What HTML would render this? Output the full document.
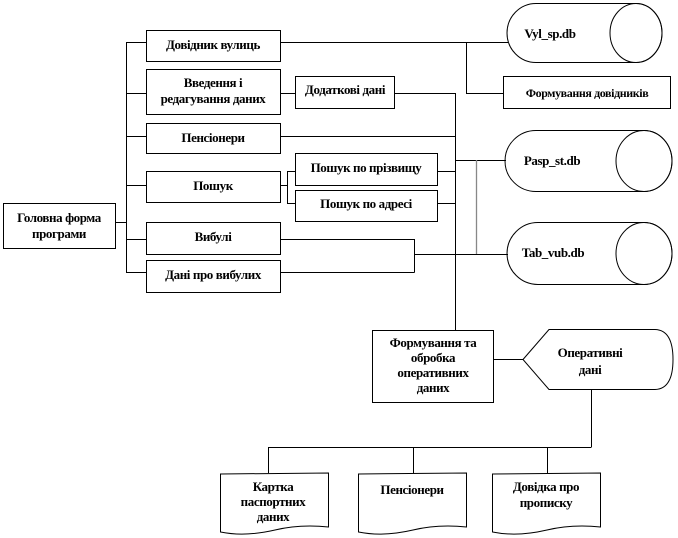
<!DOCTYPE html>
<html><head><meta charset="utf-8"><style>
html,body{margin:0;padding:0;background:#fff;}
svg{display:block}
text{font-family:"Liberation Serif",serif;font-weight:bold;font-size:13px;fill:#000;text-anchor:middle;letter-spacing:-0.4px}
</style></head><body>
<svg width="678" height="538" viewBox="0 0 678 538" xmlns="http://www.w3.org/2000/svg">
<g stroke="#000" stroke-width="1" fill="none">
<rect x="3.5" y="203.5" width="112" height="45"/>
<line x1="115" y1="222.5" x2="126.5" y2="222.5"/>
<line x1="126.5" y1="42" x2="126.5" y2="272.5"/>
<line x1="126" y1="42.5" x2="146" y2="42.5"/>
<line x1="126" y1="93.5" x2="146" y2="93.5"/>
<line x1="126" y1="136.5" x2="146" y2="136.5"/>
<line x1="126" y1="185.5" x2="146" y2="185.5"/>
<line x1="126" y1="239.5" x2="146" y2="239.5"/>
<line x1="126" y1="272.5" x2="146" y2="272.5"/>
<rect x="146.5" y="30.5" width="134" height="31"/>
<rect x="146.5" y="69.5" width="134" height="45"/>
<rect x="146.5" y="123.5" width="134" height="30"/>
<rect x="146.5" y="171.5" width="134" height="31"/>
<rect x="146.5" y="222.5" width="134" height="32"/>
<rect x="146.5" y="260.5" width="134" height="32"/>
<line x1="280" y1="93.5" x2="295" y2="93.5"/>
<rect x="295.5" y="76.5" width="99" height="32"/>
<line x1="280" y1="185.5" x2="287.5" y2="185.5"/>
<line x1="287.5" y1="171" x2="287.5" y2="203"/>
<line x1="287" y1="171.5" x2="295" y2="171.5"/>
<line x1="287" y1="203.5" x2="295" y2="203.5"/>
<rect x="295.5" y="153.5" width="142" height="32"/>
<rect x="295.5" y="190.5" width="142" height="31"/>
<line x1="394" y1="93.5" x2="455.5" y2="93.5"/>
<line x1="455.5" y1="93" x2="455.5" y2="330"/>
<line x1="280" y1="136.5" x2="455" y2="136.5"/>
<line x1="437" y1="171.5" x2="455" y2="171.5"/>
<line x1="437" y1="203.5" x2="455" y2="203.5"/>
<line x1="455" y1="160.5" x2="506" y2="160.5"/>
<line x1="476.5" y1="160" x2="476.5" y2="254" stroke="#888" stroke-width="1.3"/>
<line x1="280" y1="239.5" x2="414.5" y2="239.5"/>
<line x1="414.5" y1="239" x2="414.5" y2="272.5"/>
<line x1="280" y1="272.5" x2="414.5" y2="272.5"/>
<line x1="414" y1="254.5" x2="508" y2="254.5"/>
<line x1="280" y1="42.5" x2="508" y2="42.5"/>
<line x1="466.5" y1="42" x2="466.5" y2="93.5"/>
<line x1="466" y1="93.5" x2="503" y2="93.5"/>
<rect x="503.5" y="76.5" width="167" height="32"/>
<path d="M536,3.5 H636 A26,29.5 0 0 1 636,62.5 H536 A29,29.5 0 0 1 536,3.5 Z"/>
<ellipse cx="636" cy="33" rx="26" ry="29.5"/>
<path d="M536,130.5 H644 A28,30.5 0 0 1 644,191.5 H536 A31,30.5 0 0 1 536,130.5 Z"/>
<ellipse cx="644" cy="161" rx="28" ry="30.5"/>
<path d="M538,222.5 H644 A28,31 0 0 1 644,284.5 H538 A31,31 0 0 1 538,222.5 Z"/>
<ellipse cx="644" cy="253.5" rx="28" ry="31"/>
<rect x="372.5" y="330.5" width="121" height="72"/>
<line x1="493" y1="359.5" x2="523" y2="359.5"/>
<path d="M523,359.5 L549,329.5 H655 Q673,330 673,359.5 Q673,389 655,389.5 H549 Z"/>
<line x1="591.5" y1="389" x2="591.5" y2="447"/>
<line x1="268" y1="447.5" x2="591.5" y2="447.5"/>
<line x1="268.5" y1="447" x2="268.5" y2="473"/>
<line x1="413.5" y1="447" x2="413.5" y2="473"/>
<line x1="547.5" y1="447" x2="547.5" y2="473"/>
<path d="M220.5,474 L328.5,473 V527 Q300,524 275,530 Q245,537 220.5,532 Z"/>
<path d="M358.5,474 L466.5,473 V527 Q438,524 413,530 Q383,537 358.5,532 Z"/>
<path d="M492.5,474 L600.5,473 V527 Q572,524 547,530 Q517,537 492.5,532 Z"/>
</g>
<text x="59" y="222">Головна форма</text>
<text x="59" y="238">програми</text>
<text x="213" y="49">Довідник вулиць</text>
<text x="213" y="87">Введення і</text>
<text x="213" y="103">редагування даних</text>
<text x="213" y="142">Пенсіонери</text>
<text x="213" y="190">Пошук</text>
<text x="213" y="241">Вибулі</text>
<text x="213" y="279">Дані про вибулих</text>
<text x="345" y="94">Додаткові дані</text>
<text x="366" y="172">Пошук по прізвищу</text>
<text x="366" y="208">Пошук по адресі</text>
<text x="587" y="97" style="font-size:12px">Формування  довідників</text>
<text x="550" y="38">Vyl_sp.db</text>
<text x="552" y="165">Pasp_st.db</text>
<text x="553" y="257">Tab_vub.db</text>
<text x="433" y="347">Формування та</text>
<text x="433" y="362">обробка</text>
<text x="433" y="377">оперативних</text>
<text x="433" y="392">даних</text>
<text x="590" y="357">Оперативні</text>
<text x="590" y="374">дані</text>
<text x="273" y="491">Картка</text>
<text x="273" y="506">паспортних</text>
<text x="273" y="521">даних</text>
<text x="412" y="494">Пенсіонери</text>
<text x="546" y="491">Довідка про</text>
<text x="546" y="507">прописку</text>
</svg>
</body></html>
